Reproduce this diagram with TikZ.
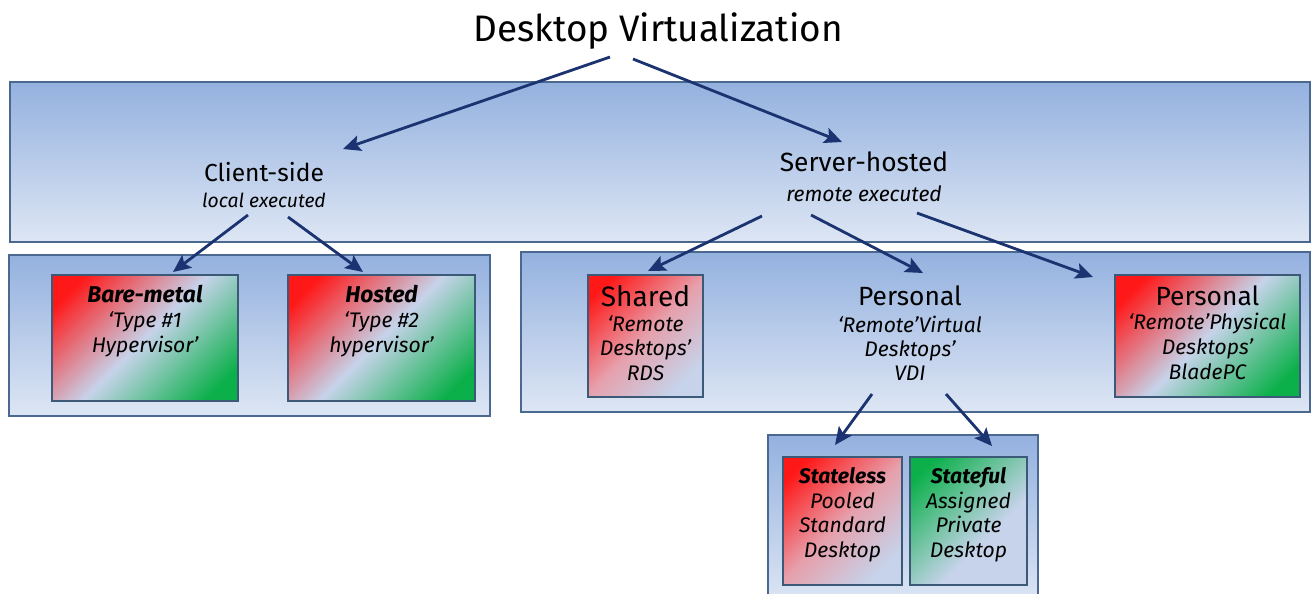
\documentclass[tikz,border=0pt]{standalone}
\usepackage{fontspec}
\setmainfont{Fira Sans}
\usetikzlibrary{arrows.meta, positioning}

\definecolor{panelTop}{HTML}{94B1DF}
\definecolor{panelBot}{HTML}{DDE6F4}
\definecolor{panelEdge}{HTML}{4A6890}
\definecolor{boxEdge}{HTML}{3C5A78}
\definecolor{boxred}{HTML}{FF1818}
\definecolor{boxmid}{HTML}{C6D3EA}
\definecolor{boxpink}{HTML}{E6A0AC}
\definecolor{boxgreen}{HTML}{0BB04A}
\definecolor{arrowBlue}{HTML}{1B3370}

\pgfdeclarehorizontalshading{redgreen}{100bp}{color(0bp)=(boxred); color(22bp)=(boxred); color(50bp)=(boxmid); color(78bp)=(boxgreen); color(100bp)=(boxgreen)}
\pgfdeclarehorizontalshading{redonly}{100bp}{color(0bp)=(boxred); color(22bp)=(boxred); color(50bp)=(boxpink); color(75bp)=(boxmid); color(100bp)=(boxmid)}
\pgfdeclarehorizontalshading{greenonly}{100bp}{color(0bp)=(boxgreen); color(22bp)=(boxgreen); color(60bp)=(boxmid); color(100bp)=(boxmid)}

% text block at the top of a box
\newcommand{\boxtxt}[3]{\parbox[c][#2][t]{#1}{\centering\vspace*{6pt}#3}}

\begin{document}
\begin{tikzpicture}[
    x=0.02cm, y=-0.02cm,
    panel/.style={draw=panelEdge, line width=1.1pt, top color=panelTop, bottom color=panelBot, inner sep=0pt},
    box/.style={draw=boxEdge, line width=1.3pt, inner sep=0pt, shading=#1, shading angle=-45, font=\itshape\fontsize{12}{14}\selectfont},
    box/.default=redgreen,
    txt/.style={inner sep=0pt, align=center},
    arrow/.style={-{Stealth[length=10pt, width=9pt, inset=2pt]}, line width=1.6pt, draw=arrowBlue}
]
    \useasboundingbox (0,0) rectangle (1314,593);

    % Panels
    \node[panel, minimum width=26cm, minimum height=3.2cm] (toppanel) at (660,162) {};
    \node[panel, minimum width=9.62cm, minimum height=3.22cm] (clientpanel) at (249.5,335.5) {};
    \node[panel, minimum width=15.78cm, minimum height=3.2cm] (serverpanel) at (915.5,332) {};
    \node[panel, minimum width=5.4cm, minimum height=3.4cm] (vdipanel) at (903,520) {};

    % Title and levels
    \node[txt, font=\fontsize{21}{25}\selectfont] (title) at (658,31) {Desktop Virtualization};
    \node[txt, font=\fontsize{14}{14.6}\selectfont] (client) at (264,185) {Client-side\\{\itshape\fontsize{11}{13}\selectfont local executed}};
    \node[txt, font=\fontsize{15}{17}\selectfont] (server) at (864,177) {Server-hosted\\{\itshape\fontsize{12}{13}\selectfont remote executed}};

    % Client-side boxes
    \node[box] (bare) at (145,338) {\boxtxt{3.72cm}{2.52cm}{{\bfseries\fontsize{13}{14}\selectfont Bare-metal}\\`Type \#1\\Hypervisor'}};
    \node[box] (hosted) at (381.5,338) {\boxtxt{3.74cm}{2.52cm}{{\bfseries\fontsize{13}{14}\selectfont Hosted}\\`Type \#2\\hypervisor'}};

    % Server-hosted boxes
    \node[box=redonly] (shared) at (645.5,336) {\boxtxt{2.3cm}{2.44cm}{{\upshape\fontsize{16}{16}\selectfont Shared}\\`Remote\\Desktops'\\RDS}};
    \node[txt, font=\itshape\fontsize{12}{13.5}\selectfont] (vdi) at (910,333) {{\upshape\fontsize{15}{16}\selectfont Personal}\\[2pt]`Remote'Virtual\\Desktops'\\VDI};
    \node[box] (physical) at (1207.5,336) {\boxtxt{3.7cm}{2.44cm}{{\upshape\fontsize{15}{16}\selectfont Personal}\\`Remote'Physical\\Desktops'\\BladePC}};

    % VDI boxes
    \node[box=redonly] (stateless) at (842.5,521) {\boxtxt{2.38cm}{2.56cm}{{\bfseries Stateless}\\Pooled\\Standard\\Desktop}};
    \node[box=greenonly] (stateful) at (968.5,521) {\boxtxt{2.34cm}{2.56cm}{{\bfseries Stateful}\\Assigned\\Private\\Desktop}};

    % Arrows
    \draw[arrow] ([shift={(-48,26)}]title.center) -- ([shift={(79,-36)}]client.center);
    \draw[arrow] ([shift={(-25,28)}]title.center) -- ([shift={(-22,-35)}]server.center);
    \draw[arrow] ([shift={(-16,30)}]client.center) -- ([shift={(28,-66)}]bare.center);
    \draw[arrow] ([shift={(24,32)}]client.center) -- ([shift={(-18.5,-66)}]hosted.center);
    \draw[arrow] ([shift={(-102,39)}]server.center) -- ([shift={(2.5,-65)}]shared.center);
    \draw[arrow] ([shift={(-53,38)}]server.center) -- ([shift={(13,-60)}]vdi.center);
    \draw[arrow] ([shift={(53,36)}]server.center) -- ([shift={(-114.5,-59)}]physical.center);
    \draw[arrow] ([shift={(-38,61)}]vdi.center) -- ([shift={(-7.5,-76)}]stateless.center);
    \draw[arrow] ([shift={(36,61)}]vdi.center) -- ([shift={(23.5,-75)}]stateful.center);

\end{tikzpicture}
\end{document}
